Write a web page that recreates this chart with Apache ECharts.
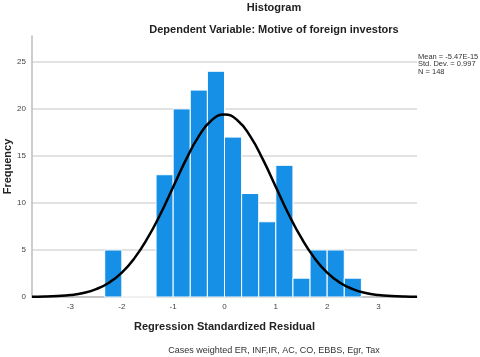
<!DOCTYPE html>
<html>
<head>
<meta charset="utf-8">
<script src="https://cdn.jsdelivr.net/npm/echarts@6/dist/echarts.min.js"></script>
<style>
  html, body { margin: 0; padding: 0; background: #fff; }
  #chart { width: 480px; height: 357px; }
</style>
</head>
<body>
<div id="chart"></div>
<script>
// 直方图的分箱（宽 1/3）
const binStart = [-7/3, -2, -5/3, -4/3, -1, -2/3, -1/3, 0, 1/3, 2/3, 1, 4/3, 5/3, 2, 7/3]
const binCount = [5, 0, 0, 13, 20, 22, 24, 17, 11, 8, 14, 2, 5, 5, 2]
const binWidth = 1 / 3

// 正态曲线（从图上读出的点）
const curveX = [-3.75, -3.5, -3.25, -3, -2.75, -2.5, -2.25, -2, -1.75, -1.5, -1.25, -1, -0.75, -0.5, -0.25,
  0, 0.25, 0.5, 0.75, 1, 1.25, 1.5, 1.75, 2, 2.25, 2.5, 2.75, 3, 3.25, 3.5, 3.75]
const curveY = [0.02, 0.04, 0.1, 0.21, 0.43, 0.84, 1.52, 2.6, 4.16, 6.25, 8.8, 11.7, 14.6, 17.1, 18.8,
  19.4, 18.8, 17.1, 14.6, 11.7, 8.8, 6.25, 4.16, 2.6, 1.52, 0.84, 0.43, 0.21, 0.1, 0.04, 0.02]

const xTicks = [-3, -2, -1, 0, 1, 2, 3]
const yTicks = [0, 5, 10, 15, 20, 25]

const statLines = ['Mean = -5.47E-15', 'Std. Dev. = 0.997', 'N = 148']

const font = '"Liberation Sans", Arial, sans-serif'

let bars = binStart.map((s, i) => [s, s + binWidth, binCount[i]])
let curve = curveX.map((x, i) => [x, curveY[i]])

let myChart = echarts.init(document.getElementById('chart'))
let option = {
  animation: false,
  textStyle: { fontFamily: font },
  title: [
    {
      text: 'Histogram',
      left: 274, top: 2, textAlign: 'center', padding: 0,
      textStyle: { fontSize: 11, fontWeight: 'bold', color: '#222', fontFamily: font }
    },
    {
      text: 'Dependent Variable: Motive of foreign investors',
      left: 274, top: 24, textAlign: 'center', padding: 0,
      textStyle: { fontSize: 11, fontWeight: 'bold', color: '#222', fontFamily: font }
    },
    {
      text: statLines.join('\n'),
      left: 418, top: 53, padding: 0,
      textStyle: { fontSize: 7.5, fontWeight: 'normal', color: '#333', lineHeight: 7.5, fontFamily: font }
    },
    {
      text: 'Cases weighted ER, INF,IR, AC, CO, EBBS, Egr, Tax',
      left: 274, top: 346, textAlign: 'center', padding: 0,
      textStyle: { fontSize: 9, fontWeight: 'normal', color: '#333', fontFamily: font }
    }
  ],
  grid: { left: 32, right: 63, top: 36, bottom: 60, outerBoundsMode: 'none', containLabel: false },
  xAxis: {
    type: 'value',
    min: -3.75,
    max: 3.75,
    name: 'Regression Standardized Residual',
    nameLocation: 'middle',
    nameGap: 24,
    nameMoveOverlap: false,
    nameTextStyle: { fontSize: 11, fontWeight: 'bold', color: '#222' },
    axisLine: { lineStyle: { color: '#bdbdbd', width: 1.5 } },
    axisTick: { show: false, customValues: xTicks },
    axisLabel: { customValues: xTicks, fontSize: 8, color: '#444', margin: 6 },
    splitLine: { show: false }
  },
  yAxis: {
    type: 'value',
    min: 0,
    max: 27.75,
    name: 'Frequency',
    nameLocation: 'middle',
    nameGap: 19,
    nameMoveOverlap: false,
    nameTextStyle: { fontSize: 11, fontWeight: 'bold', color: '#222' },
    axisLine: { show: true, onZero: false, lineStyle: { color: '#bdbdbd', width: 1.5 } },
    axisTick: { show: false, customValues: yTicks },
    axisLabel: { customValues: yTicks, fontSize: 8, color: '#444', margin: 6 },
    splitLine: { show: true, lineStyle: { color: '#d9d9d9', width: 1.5 } }
  },
  series: [
    {
      type: 'custom',
      data: bars,
      encode: { x: [0, 1], y: 2 },
      renderItem: function (params, api) {
        let p0 = api.coord([api.value(0), 0])
        let p1 = api.coord([api.value(1), api.value(2)])
        return {
          type: 'rect',
          shape: { x: p0[0], y: p1[1], width: p1[0] - p0[0], height: p0[1] - p1[1] },
          style: { fill: '#1590e6', stroke: '#ffffff', lineWidth: 1 }
        }
      },
      z: 2
    },
    {
      type: 'line',
      data: curve,
      smooth: true,
      symbol: 'none',
      lineStyle: { color: '#000', width: 2.5 },
      z: 3
    }
  ]
}
myChart.setOption(option)
</script>
</body>
</html>
